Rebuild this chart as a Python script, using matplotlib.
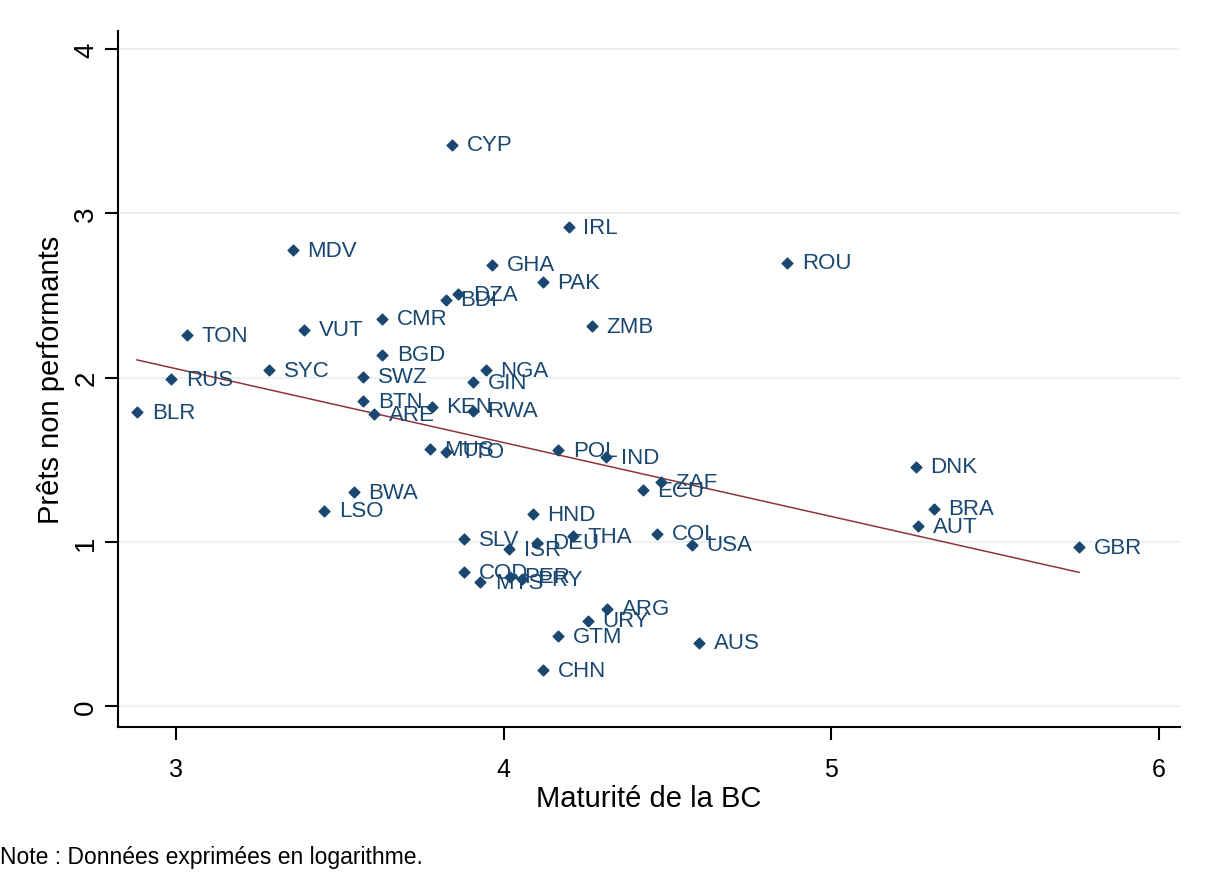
import numpy as np
import matplotlib.pyplot as plt

plt.rcParams['font.family'] = ['Liberation Sans', 'DejaVu Sans']

countries = ["CYP", "IRL", "MDV", "GHA", "ROU", "PAK", "DZA", "BDI", "CMR", "ZMB",
             "TON", "VUT", "BGD", "SYC", "NGA", "SWZ", "GIN", "RUS", "BLR", "BTN",
             "KEN", "ARE", "RWA", "MUS", "TTO", "POL", "IND", "ZAF", "ECU", "DNK",
             "BRA", "AUT", "GBR", "BWA", "LSO", "HND", "SLV", "ISR", "DEU", "THA",
             "COL", "USA", "COD", "MYS", "PER", "PRY", "ARG", "URY", "GTM", "AUS",
             "CHN"]
maturite = [3.842, 4.199, 3.357, 3.964, 4.865, 4.120, 3.861, 3.824, 3.629, 4.269,
            3.034, 3.391, 3.629, 3.284, 3.946, 3.571, 3.906, 2.985, 2.881, 3.571,
            3.781, 3.604, 3.906, 3.775, 3.824, 4.166, 4.312, 4.480, 4.425, 5.258,
            5.313, 5.264, 5.756, 3.543, 3.452, 4.089, 3.879, 4.016, 4.102, 4.211,
            4.468, 4.575, 3.879, 3.928, 4.019, 4.056, 4.315, 4.257, 4.166, 4.596,
            4.120]
npl = [3.417, 2.917, 2.777, 2.686, 2.698, 2.582, 2.509, 2.473, 2.357, 2.314,
       2.259, 2.290, 2.138, 2.046, 2.046, 2.004, 1.973, 1.991, 1.790, 1.857,
       1.821, 1.778, 1.797, 1.565, 1.547, 1.559, 1.516, 1.364, 1.315, 1.456,
       1.200, 1.096, 0.968, 1.303, 1.188, 1.169, 1.017, 0.956, 0.993, 1.035,
       1.048, 0.981, 0.816, 0.755, 0.786, 0.773, 0.591, 0.518, 0.426, 0.384,
       0.219]

x = np.array(maturite)
y = np.array(npl)

fig = plt.figure(figsize=(12.12, 8.78), dpi=100)
ax = fig.add_axes([0.0974, 0.1708, 0.8762, 0.7928])

# Grid lines
for v in [0, 1, 2, 3, 4]:
    ax.axhline(v, color='#eaf2f3', lw=1.5, zorder=0)

ax.scatter(x, y, marker='D', s=30, color='#1a476f', zorder=3)
for name, xi, yi in zip(countries, x, y):
    ax.annotate(name, (xi, yi), xytext=(10.5, 0), textcoords='offset points',
                va='center', ha='left', fontsize=16, color='#1a476f', zorder=4)

# Fitted line
b, a = np.polyfit(x, y, 1)
xs = np.array([x.min(), x.max()])
ax.plot(xs, a + b * xs, color='#90353b', lw=1.1, zorder=2)

ax.set_xlim(2.823, 6.064)
ax.set_ylim(-0.128, 4.111)
ax.set_xticks([3, 4, 5, 6])
ax.set_yticks([0, 1, 2, 3, 4])
ax.set_yticklabels(['0', '1', '2', '3', '4'], rotation=90, va='center')
ax.tick_params(axis='both', length=9.5, width=1.5, direction='out')
ax.tick_params(axis='x', labelsize=18, pad=12)
ax.tick_params(axis='y', labelsize=20, pad=4)

for s in ['top', 'right']:
    ax.spines[s].set_visible(False)
for s in ['left', 'bottom']:
    ax.spines[s].set_linewidth(1.5)

ax.set_xlabel("Maturité de la BC", fontsize=21, labelpad=2)
ax.set_ylabel("Prêts non performants", fontsize=21, labelpad=6)

fig.text(0.0, 0.016, "Note : Données exprimées en logarithme.", fontsize=16.5, ha='left')

fig.savefig('out.png', dpi=100, facecolor='white')
